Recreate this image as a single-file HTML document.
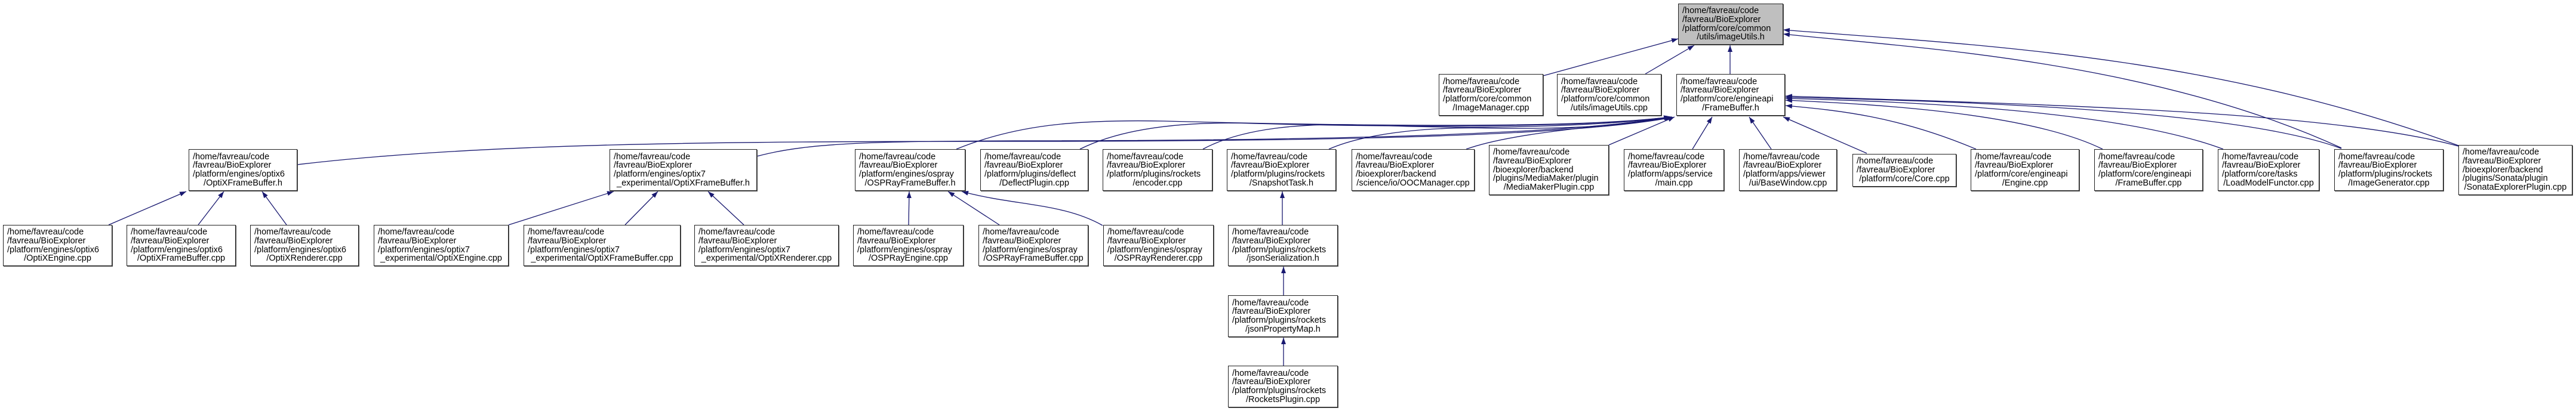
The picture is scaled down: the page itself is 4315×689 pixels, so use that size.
<!DOCTYPE html>
<html><head><meta charset="utf-8">
<style>
html,body{margin:0;padding:0;background:#fff;}
#c{position:relative;width:4315px;height:689px;overflow:hidden;background:#fff;}
.b{position:absolute;box-sizing:border-box;border:1.3px solid #222;background:#fff;display:flex;flex-direction:column;justify-content:center;padding:0 6px;font-family:"Liberation Sans",sans-serif;font-size:14.5px;line-height:14.7px;color:#000;white-space:nowrap;box-shadow:1px 1px 0 #555;}
.b div:last-child{text-align:center;}
.g{background:#bfbfbf;}
svg{position:absolute;left:0;top:0;}
</style></head><body><div id="c">
<svg width="4315" height="689" viewBox="0 0 4315 689">
<defs><marker id="a" markerUnits="userSpaceOnUse" markerWidth="11" markerHeight="8" refX="11" refY="4" orient="auto"><path d="M0,0 L11,4 L0,8 z" fill="#191970"/></marker></defs>
<g fill="none" stroke="#191970" stroke-width="1.3" marker-end="url(#a)">
<path d="M2585,127 L2811,65"/>
<path d="M2756,124 L2838,76"/>
<path d="M2898,124 L2898,76"/>
<path d="M3922,248 C3600,100 3200,80 2987,57"/>
<path d="M4118,244 C3700,90 3300,75 2987,50"/>
<path d="M498,276 C800,240 1200,237 1700,237 C2300,237 2650,225 2800,197"/>
<path d="M1268,262 C1350,240 1450,237 1700,236 C2300,236 2650,222 2799,196"/>
<path d="M1602,250 C1700,210 1800,200 1950,203 C2300,212 2650,215 2798,196"/>
<path d="M1809,250 C1880,215 1980,203 2100,207 C2400,215 2680,212 2798,196"/>
<path d="M2015,250 C2080,215 2180,205 2300,210 C2500,218 2700,210 2799,196"/>
<path d="M2226,250 C2290,222 2400,212 2500,215 C2650,217 2740,208 2800,196"/>
<path d="M2456,250 C2540,220 2700,212 2801,196"/>
<path d="M2695,243 L2805,196"/>
<path d="M2835,250 L2868,196"/>
<path d="M2967,250 L2930,196"/>
<path d="M3127,257 L2987,196"/>
<path d="M3310,250 C3180,195 3080,185 2991,177"/>
<path d="M3522,250 C3400,190 3150,175 2991,168"/>
<path d="M3724,250 C3550,185 3200,170 2991,165"/>
<path d="M3922,249 C3750,185 3300,170 2991,163"/>
<path d="M4118,245 C3900,185 3400,175 2991,161"/>
<path d="M182,377 L312,321"/>
<path d="M332,377 L375,321"/>
<path d="M480,377 L439,321"/>
<path d="M852,377 L1028,321"/>
<path d="M1047,377 L1102,321"/>
<path d="M1246,377 L1186,321"/>
<path d="M1522,377 L1523,321"/>
<path d="M1674,377 L1588,321"/>
<path d="M1847,378 C1780,340 1700,345 1611,321"/>
<path d="M2148,377 L2148,321"/>
<path d="M2150,495 L2150,447"/>
<path d="M2150,613 L2150,566"/>
</g></svg>

<div class="b g" style="left:2811px;top:6px;width:176px;height:69px"><div>/home/favreau/code</div><div>/favreau/BioExplorer</div><div>/platform/core/common</div><div>/utils/imageUtils.h</div></div>

<div class="b" style="left:2410px;top:124px;width:175px;height:70px"><div>/home/favreau/code</div><div>/favreau/BioExplorer</div><div>/platform/core/common</div><div>/ImageManager.cpp</div></div>
<div class="b" style="left:2608px;top:124px;width:175px;height:70px"><div>/home/favreau/code</div><div>/favreau/BioExplorer</div><div>/platform/core/common</div><div>/utils/imageUtils.cpp</div></div>
<div class="b" style="left:2808px;top:124px;width:182px;height:70px"><div>/home/favreau/code</div><div>/favreau/BioExplorer</div><div>/platform/core/engineapi</div><div>/FrameBuffer.h</div></div>

<div class="b" style="left:316px;top:250px;width:182px;height:70px"><div>/home/favreau/code</div><div>/favreau/BioExplorer</div><div>/platform/engines/optix6</div><div>/OptiXFrameBuffer.h</div></div>
<div class="b" style="left:1021px;top:250px;width:247px;height:70px"><div>/home/favreau/code</div><div>/favreau/BioExplorer</div><div>/platform/engines/optix7</div><div>_experimental/OptiXFrameBuffer.h</div></div>
<div class="b" style="left:1432px;top:250px;width:185px;height:70px"><div>/home/favreau/code</div><div>/favreau/BioExplorer</div><div>/platform/engines/ospray</div><div>/OSPRayFrameBuffer.h</div></div>
<div class="b" style="left:1642px;top:250px;width:181px;height:70px"><div>/home/favreau/code</div><div>/favreau/BioExplorer</div><div>/platform/plugins/deflect</div><div>/DeflectPlugin.cpp</div></div>
<div class="b" style="left:1847px;top:250px;width:184px;height:70px"><div>/home/favreau/code</div><div>/favreau/BioExplorer</div><div>/platform/plugins/rockets</div><div>/encoder.cpp</div></div>
<div class="b" style="left:2055px;top:250px;width:183px;height:70px"><div>/home/favreau/code</div><div>/favreau/BioExplorer</div><div>/platform/plugins/rockets</div><div>/SnapshotTask.h</div></div>
<div class="b" style="left:2264px;top:250px;width:206px;height:70px"><div>/home/favreau/code</div><div>/favreau/BioExplorer</div><div>/bioexplorer/backend</div><div>/science/io/OOCManager.cpp</div></div>
<div class="b" style="left:2494px;top:243px;width:201px;height:84px"><div>/home/favreau/code</div><div>/favreau/BioExplorer</div><div>/bioexplorer/backend</div><div>/plugins/MediaMaker/plugin</div><div>/MediaMakerPlugin.cpp</div></div>
<div class="b" style="left:2720px;top:250px;width:168px;height:70px"><div>/home/favreau/code</div><div>/favreau/BioExplorer</div><div>/platform/apps/service</div><div>/main.cpp</div></div>
<div class="b" style="left:2913px;top:250px;width:164px;height:70px"><div>/home/favreau/code</div><div>/favreau/BioExplorer</div><div>/platform/apps/viewer</div><div>/ui/BaseWindow.cpp</div></div>
<div class="b" style="left:3103px;top:258px;width:174px;height:55px"><div>/home/favreau/code</div><div>/favreau/BioExplorer</div><div>/platform/core/Core.cpp</div></div>
<div class="b" style="left:3301px;top:250px;width:182px;height:70px"><div>/home/favreau/code</div><div>/favreau/BioExplorer</div><div>/platform/core/engineapi</div><div>/Engine.cpp</div></div>
<div class="b" style="left:3508px;top:250px;width:182px;height:70px"><div>/home/favreau/code</div><div>/favreau/BioExplorer</div><div>/platform/core/engineapi</div><div>/FrameBuffer.cpp</div></div>
<div class="b" style="left:3715px;top:250px;width:170px;height:70px"><div>/home/favreau/code</div><div>/favreau/BioExplorer</div><div>/platform/core/tasks</div><div>/LoadModelFunctor.cpp</div></div>
<div class="b" style="left:3910px;top:250px;width:183px;height:70px"><div>/home/favreau/code</div><div>/favreau/BioExplorer</div><div>/platform/plugins/rockets</div><div>/ImageGenerator.cpp</div></div>
<div class="b" style="left:4118px;top:243px;width:191px;height:84px"><div>/home/favreau/code</div><div>/favreau/BioExplorer</div><div>/bioexplorer/backend</div><div>/plugins/Sonata/plugin</div><div>/SonataExplorerPlugin.cpp</div></div>

<div class="b" style="left:5px;top:377px;width:183px;height:69px"><div>/home/favreau/code</div><div>/favreau/BioExplorer</div><div>/platform/engines/optix6</div><div>/OptiXEngine.cpp</div></div>
<div class="b" style="left:212px;top:377px;width:183px;height:69px"><div>/home/favreau/code</div><div>/favreau/BioExplorer</div><div>/platform/engines/optix6</div><div>/OptiXFrameBuffer.cpp</div></div>
<div class="b" style="left:419px;top:377px;width:182px;height:69px"><div>/home/favreau/code</div><div>/favreau/BioExplorer</div><div>/platform/engines/optix6</div><div>/OptiXRenderer.cpp</div></div>
<div class="b" style="left:626px;top:377px;width:226px;height:69px"><div>/home/favreau/code</div><div>/favreau/BioExplorer</div><div>/platform/engines/optix7</div><div>_experimental/OptiXEngine.cpp</div></div>
<div class="b" style="left:877px;top:377px;width:263px;height:69px"><div>/home/favreau/code</div><div>/favreau/BioExplorer</div><div>/platform/engines/optix7</div><div>_experimental/OptiXFrameBuffer.cpp</div></div>
<div class="b" style="left:1163px;top:377px;width:242px;height:69px"><div>/home/favreau/code</div><div>/favreau/BioExplorer</div><div>/platform/engines/optix7</div><div>_experimental/OptiXRenderer.cpp</div></div>
<div class="b" style="left:1429px;top:377px;width:185px;height:69px"><div>/home/favreau/code</div><div>/favreau/BioExplorer</div><div>/platform/engines/ospray</div><div>/OSPRayEngine.cpp</div></div>
<div class="b" style="left:1639px;top:377px;width:184px;height:69px"><div>/home/favreau/code</div><div>/favreau/BioExplorer</div><div>/platform/engines/ospray</div><div>/OSPRayFrameBuffer.cpp</div></div>
<div class="b" style="left:1848px;top:377px;width:185px;height:69px"><div>/home/favreau/code</div><div>/favreau/BioExplorer</div><div>/platform/engines/ospray</div><div>/OSPRayRenderer.cpp</div></div>
<div class="b" style="left:2057px;top:377px;width:184px;height:69px"><div>/home/favreau/code</div><div>/favreau/BioExplorer</div><div>/platform/plugins/rockets</div><div>/jsonSerialization.h</div></div>

<div class="b" style="left:2057px;top:495px;width:184px;height:70px"><div>/home/favreau/code</div><div>/favreau/BioExplorer</div><div>/platform/plugins/rockets</div><div>/jsonPropertyMap.h</div></div>
<div class="b" style="left:2057px;top:613px;width:184px;height:70px"><div>/home/favreau/code</div><div>/favreau/BioExplorer</div><div>/platform/plugins/rockets</div><div>/RocketsPlugin.cpp</div></div>
</div></body></html>
